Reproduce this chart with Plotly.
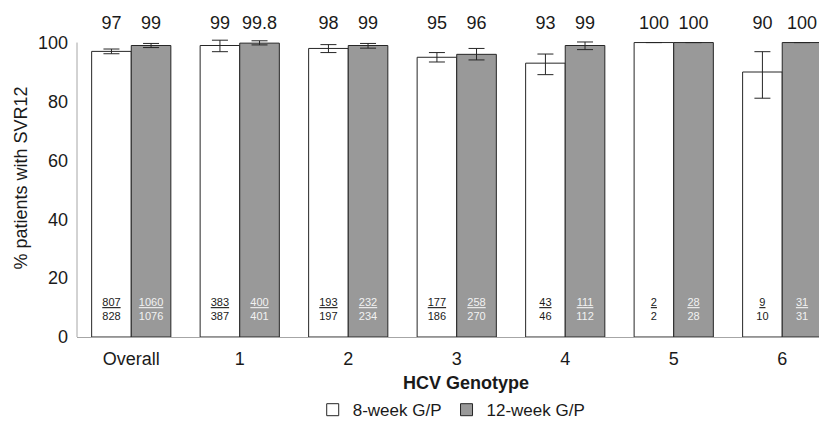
import plotly.graph_objects as go

# ---- data ----
categories = ["Overall", "1", "2", "3", "4", "5", "6"]
svr_8wk = [97, 99, 98, 95, 93, 100, 90]
svr_12wk = [99, 99.8, 99, 96, 99, 100, 100]
labels_8wk = ["97", "99", "98", "95", "93", "100", "90"]
labels_12wk = ["99", "99.8", "99", "96", "99", "100", "100"]
ci_hi_8wk = [97.8, 100.8, 99.3, 96.6, 96.1, None, 96.9]
ci_lo_8wk = [96.2, 96.9, 96.6, 93.4, 89.1, None, 81.1]
ci_hi_12wk = [99.7, 100.6, 99.7, 98.0, 100.2, None, None]
ci_lo_12wk = [98.3, 99.2, 98.1, 94.1, 97.6, None, None]
n_svr_8wk = [807, 383, 193, 177, 43, 2, 9]
n_total_8wk = [828, 387, 197, 186, 46, 2, 10]
n_svr_12wk = [1060, 400, 232, 258, 111, 28, 31]
n_total_12wk = [1076, 401, 234, 270, 112, 28, 31]
y_ticks = [0, 20, 40, 60, 80, 100]

FONT = "Liberation Sans, Arial, sans-serif"
INK = "#1a1a1a"
AXIS = "#a6a6a6"


def plus(vals, hi):
    return [None if h is None else h - v for v, h in zip(vals, hi)]


def minus(vals, lo):
    return [None if l is None else v - l for v, l in zip(vals, lo)]


def frac(num, den):
    return [f"<u>{a}</u><br>{b}" for a, b in zip(num, den)]


fig = go.Figure()

fig.add_trace(go.Bar(
    name="8-week G/P", x=categories, y=svr_8wk, offsetgroup="w8",
    marker=dict(color="#ffffff", line=dict(color="#262626", width=1)),
    error_y=dict(type="data", symmetric=False,
                 array=plus(svr_8wk, ci_hi_8wk),
                 arrayminus=minus(svr_8wk, ci_lo_8wk),
                 color="#262626", thickness=1, width=8),
))
fig.add_trace(go.Bar(
    name="12-week G/P", x=categories, y=svr_12wk, offsetgroup="w12",
    marker=dict(color="#999999", line=dict(color="#262626", width=1)),
    error_y=dict(type="data", symmetric=False,
                 array=plus(svr_12wk, ci_hi_12wk),
                 arrayminus=minus(svr_12wk, ci_lo_12wk),
                 color="#262626", thickness=1, width=8),
))

# value labels above the bars and n/N labels near the base
y_top = max(y_ticks)
LABEL_Y = y_top * 1.062
FRAC_Y = y_top * 0.09
fig.add_trace(go.Scatter(
    x=categories, y=[LABEL_Y] * len(categories), mode="text", text=labels_8wk,
    offsetgroup="w8", textfont=dict(size=18, color=INK, family=FONT),
    showlegend=False, hoverinfo="skip", cliponaxis=False))
fig.add_trace(go.Scatter(
    x=categories, y=[LABEL_Y] * len(categories), mode="text", text=labels_12wk,
    offsetgroup="w12", textfont=dict(size=18, color=INK, family=FONT),
    showlegend=False, hoverinfo="skip", cliponaxis=False))
fig.add_trace(go.Scatter(
    x=categories, y=[FRAC_Y] * len(categories), mode="text",
    text=frac(n_svr_8wk, n_total_8wk),
    offsetgroup="w8", textfont=dict(size=11, color=INK, family=FONT),
    showlegend=False, hoverinfo="skip", cliponaxis=False))
fig.add_trace(go.Scatter(
    x=categories, y=[FRAC_Y] * len(categories), mode="text",
    text=frac(n_svr_12wk, n_total_12wk),
    offsetgroup="w12", textfont=dict(size=11, color="#f2f2f2", family=FONT),
    showlegend=False, hoverinfo="skip", cliponaxis=False))

# y-axis line only spans 0..100 (the value labels sit above it)
fig.add_shape(type="line", xref="paper", x0=0, x1=0, yref="y", y0=0, y1=y_top,
              line=dict(color=AXIS, width=1), layer="above")

# x-axis title (the source centres it slightly right of the visible plot area)
fig.add_annotation(text="<b>HCV Genotype</b>", xref="paper", yref="paper",
                   x=0.524, y=-0.146, xanchor="center", yanchor="middle",
                   showarrow=False, font=dict(size=18, color=INK, family=FONT))

# the page body adds an 8px margin around the figure
fig.update_layout(
    width=811, height=413,
    margin=dict(l=69, r=0, t=11, b=83.5, autoexpand=False),
    paper_bgcolor="white", plot_bgcolor="white",
    barmode="group", bargap=0.27, bargroupgap=0,
    scattermode="group", scattergap=0.27,
    font=dict(family=FONT, size=18, color=INK),
    showlegend=True,
    legend=dict(orientation="h", x=0.505, xanchor="center", y=-0.23, yanchor="middle",
                font=dict(size=17), traceorder="normal", itemwidth=30),
    xaxis=dict(type="category", range=[-0.5, 6.339], automargin=False,
               showline=True, linecolor=AXIS, linewidth=1,
               ticks="", ticklabelstandoff=5, showgrid=False,
               tickfont=dict(size=18)),
    yaxis=dict(range=[0, 108], tickvals=y_ticks, automargin=False,
               showline=False, ticks="", ticklabelstandoff=8,
               showgrid=False, zeroline=False,
               tickfont=dict(size=18),
               title=dict(text="% patients with SVR12", font=dict(size=18), standoff=5)),
)

fig.write_html("out.html")
